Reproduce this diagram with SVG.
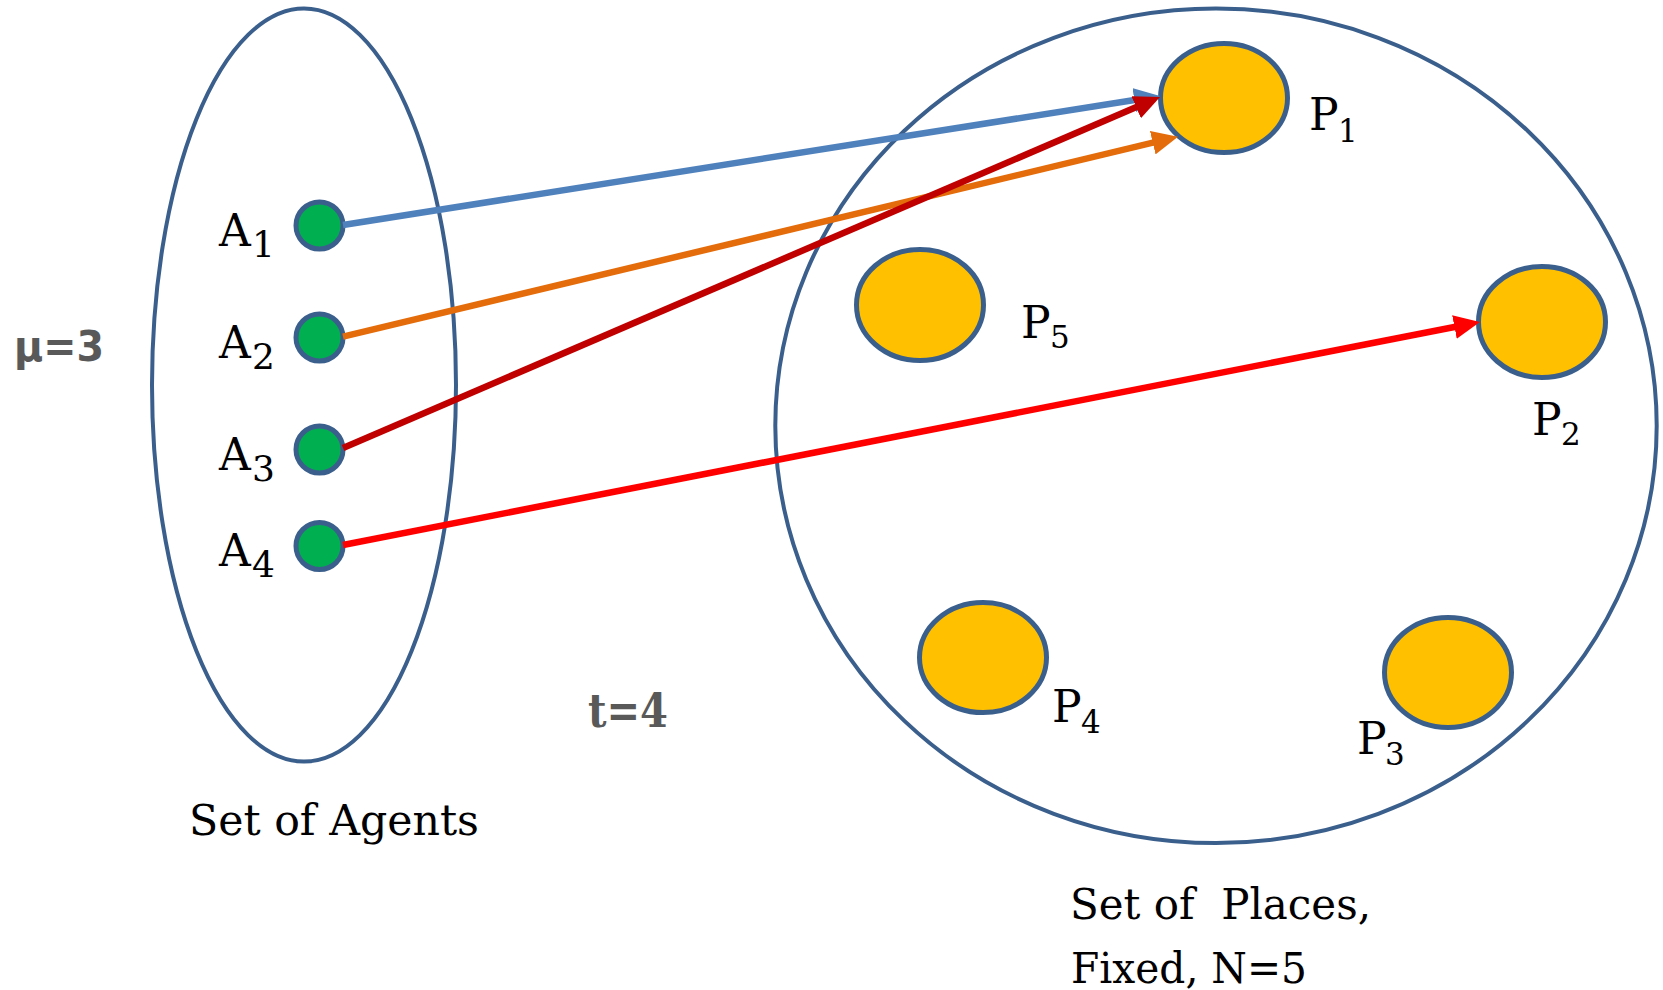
<svg xmlns="http://www.w3.org/2000/svg" width="1663" height="990" viewBox="0 0 1663 990">
<style>
.set{fill:none;stroke:#3B5F8C;stroke-width:4}
.agent{fill:#00B050;stroke:#3B5F8C;stroke-width:5}
.place{fill:#FFC000;stroke:#3B5F8C;stroke-width:5}
.lbl{font-family:"DejaVu Serif","Liberation Serif",serif;fill:#000}
.big{font-size:44px}
.asub{font-size:36px}
.psub{font-size:31px}
.cap{font-family:"DejaVu Serif","Liberation Serif",serif;font-size:43px;fill:#000}
.gray{fill:#595959;font-weight:bold}
.conn{fill:none;stroke-width:6.5}
</style>
<defs>
<marker id="mBlue" markerUnits="userSpaceOnUse" markerWidth="26" markerHeight="24" refX="13" refY="12" orient="auto"><path d="M0,0 L26,12 L0,24 z" fill="#4F81BD"/></marker>
<marker id="mOrange" markerUnits="userSpaceOnUse" markerWidth="26" markerHeight="24" refX="13" refY="12" orient="auto"><path d="M0,0 L26,12 L0,24 z" fill="#E46C0A"/></marker>
<marker id="mDark" markerUnits="userSpaceOnUse" markerWidth="26" markerHeight="24" refX="13" refY="12" orient="auto"><path d="M0,0 L26,12 L0,24 z" fill="#C00000"/></marker>
<marker id="mRed" markerUnits="userSpaceOnUse" markerWidth="26" markerHeight="24" refX="13" refY="12" orient="auto"><path d="M0,0 L26,12 L0,24 z" fill="#FF0000"/></marker>
</defs>
<rect width="1663" height="990" fill="#fff"/>

<g id="agents-set">
<ellipse class="set" cx="304" cy="385" rx="152" ry="376.5"/>
<text class="cap" x="189" y="835" textLength="290" lengthAdjust="spacingAndGlyphs">Set of Agents</text>
</g>
<g id="places-set">
<ellipse class="set" cx="1216" cy="425.8" rx="440.7" ry="417.3"/>
<text class="cap" x="1070" y="919" textLength="301" lengthAdjust="spacingAndGlyphs" xml:space="preserve">Set of  Places,</text>
<text class="cap" x="1071" y="983" textLength="236" lengthAdjust="spacingAndGlyphs">Fixed, N=5</text>
</g>

<g id="mu"><text x="14" y="361" font-family="'DejaVu Sans','Liberation Sans',sans-serif" font-size="42" class="gray" textLength="90" lengthAdjust="spacingAndGlyphs">μ=3</text></g>
<g id="t"><text x="588" y="727" font-family="'DejaVu Serif','Liberation Serif',serif" font-size="46" class="gray" textLength="80" lengthAdjust="spacingAndGlyphs">t=4</text></g>

<g id="A1"><circle class="agent" cx="319.5" cy="225.5" r="23.5"/><text class="lbl big" x="219" y="246">A</text><text class="lbl asub" x="252" y="257">1</text></g>
<g id="A2"><circle class="agent" cx="319.5" cy="337.5" r="23.5"/><text class="lbl big" x="219" y="358">A</text><text class="lbl asub" x="252" y="369">2</text></g>
<g id="A3"><circle class="agent" cx="319.5" cy="449.5" r="23.5"/><text class="lbl big" x="219" y="470">A</text><text class="lbl asub" x="252" y="481">3</text></g>
<g id="A4"><circle class="agent" cx="319.5" cy="546" r="23.5"/><text class="lbl big" x="219" y="566">A</text><text class="lbl asub" x="252" y="577">4</text></g>

<g id="P1"><ellipse class="place" cx="1224" cy="98" rx="63.5" ry="54.5"/><text class="lbl big" x="1309" y="130">P</text><text class="lbl psub" x="1338" y="142">1</text></g>
<g id="P2"><ellipse class="place" cx="1542" cy="322" rx="63.5" ry="55.5"/><text class="lbl big" x="1532" y="435">P</text><text class="lbl psub" x="1561" y="445">2</text></g>
<g id="P3"><ellipse class="place" cx="1448" cy="672.4" rx="63.5" ry="55"/><text class="lbl big" x="1357" y="754">P</text><text class="lbl psub" x="1385" y="765">3</text></g>
<g id="P4"><ellipse class="place" cx="983" cy="657.6" rx="63.5" ry="55"/><text class="lbl big" x="1052" y="722">P</text><text class="lbl psub" x="1081" y="733">4</text></g>
<g id="P5"><ellipse class="place" cx="920" cy="305" rx="63.5" ry="55.5"/><text class="lbl big" x="1021" y="338">P</text><text class="lbl psub" x="1050" y="348">5</text></g>

<g id="connectors">
<line class="conn" x1="343" y1="225" x2="1147.2" y2="98" stroke="#4F81BD" marker-end="url(#mBlue)"/>
<line class="conn" x1="343" y1="336.7" x2="1165.4" y2="139.7" stroke="#E46C0A" marker-end="url(#mOrange)"/>
<line class="conn" x1="343" y1="448" x2="1148.1" y2="102.1" stroke="#C00000" marker-end="url(#mDark)"/>
<line class="conn" x1="343" y1="545" x2="1467.2" y2="324.5" stroke="#FF0000" marker-end="url(#mRed)"/>
</g>
</svg>
